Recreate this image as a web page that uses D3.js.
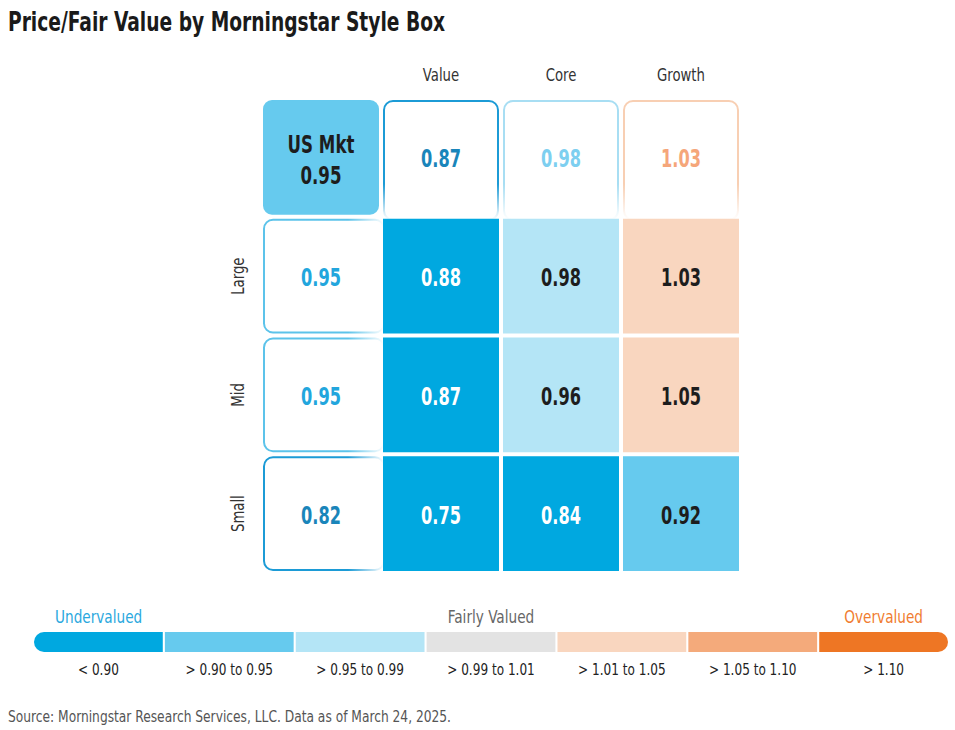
<!DOCTYPE html>
<html lang="en">
<head>
<meta charset="UTF-8" />
<title>Price/Fair Value by Morningstar Style Box</title>
<script src="https://d3js.org/d3.v7.min.js"></script>
<style>
  body { margin: 0; background: #fff; }
  svg text { font-family: "Liberation Sans Narrow", "DejaVu Sans Condensed", "Roboto", sans-serif; }
</style>
</head>
<body>
<svg id="chart" width="955" height="730"></svg>
<script>
  const styles = ["Value", "Core", "Growth"];
  const sizes = ["Large", "Mid", "Small"];
  const usMkt = 0.95;
  const styleTotals = [0.87, 0.98, 1.03];
  const sizeTotals = [0.95, 0.95, 0.82];
  const gridValues = [
    [0.88, 0.98, 1.03],
    [0.87, 0.96, 1.05],
    [0.75, 0.84, 0.92]
  ];
  const thresholds = [0.90, 0.95, 0.99, 1.01, 1.05, 1.10];
  const binLabels = ["< 0.90", "> 0.90 to 0.95", "> 0.95 to 0.99", "> 0.99 to 1.01", "> 1.01 to 1.05", "> 1.05 to 1.10", "> 1.10"];
  const binFills = ["#00a8e0", "#66caee", "#b4e5f6", "#e3e3e3", "#f9d6bf", "#f4aa7b", "#ee7624"];
  const binStrokes = ["#1c9bd6", "#5cc3ea", "#a8def3", "#cccccc", "#f8cfb3", "#f2a273", "#ee7624"];
  const binText = ["#1a85ba", "#22a6dd", "#7dcff0", "#888888", "#f5a67a", "#ef8a4a", "#ee7624"];
  const binInk = ["#ffffff", "#1d1d1d", "#1d1d1d", "#1d1d1d", "#1d1d1d", "#1d1d1d", "#ffffff"];

  const bin = v => d3.bisectLeft(thresholds, v);

  const svg = d3.select("#chart");
  const defs = svg.append("defs");

  // text squeezed sideways to imitate the condensed face
  function label(x, y, str, size, opts = {}) {
    const sx = opts.sx || 0.78;
    const rot = opts.rotate ? ` rotate(${opts.rotate})` : "";
    return svg.append("text")
      .attr("transform", `translate(${x},${y})${rot} scale(${sx},1)`)
      .attr("text-anchor", opts.anchor || "middle")
      .attr("font-size", size)
      .attr("font-weight", opts.bold ? "bold" : "normal")
      .attr("fill", opts.fill || "#222")
      .text(str);
  }

  // title
  svg.append("text").attr("x", 8).attr("y", 31)
    .attr("font-size", 26).attr("font-weight", "bold").attr("fill", "#1a1a1a")
    .attr("textLength", 437).attr("lengthAdjust", "spacingAndGlyphs")
    .text("Price/Fair Value by Morningstar Style Box");

  const x = d3.scaleBand().domain(["total"].concat(styles)).range([263, 739]).paddingInner(1 / 30);
  const y = d3.scaleBand().domain(["total"].concat(sizes)).range([100, 571]).paddingInner(4 / 119);
  const bw = x.bandwidth(), bh = y.bandwidth();

  function fadeGradient(id, color, vertical) {
    const g = defs.append("linearGradient").attr("id", id)
      .attr("x1", 0).attr("y1", 0)
      .attr("x2", vertical ? 0 : 1).attr("y2", vertical ? 1 : 0);
    g.append("stop").attr("offset", 0).attr("stop-color", color).attr("stop-opacity", 1);
    g.append("stop").attr("offset", 0.7).attr("stop-color", color).attr("stop-opacity", 1);
    g.append("stop").attr("offset", 1).attr("stop-color", color).attr("stop-opacity", 0);
  }

  // headers
  styles.forEach(s => label(x(s) + bw / 2, 81, s, 18, { sx: 0.82, fill: "#333" }));
  sizes.forEach(s => label(244, y(s) + bh / 2, s, 18, { sx: 0.82, fill: "#333", rotate: -90 }));

  // US market box
  svg.append("rect").attr("x", x("total")).attr("y", y("total"))
    .attr("width", bw).attr("height", bh).attr("rx", 9)
    .attr("fill", binFills[bin(usMkt)]);
  label(x("total") + bw / 2, y("total") + bh / 2 - 4, "US Mkt", 25, { bold: true, sx: 0.74, fill: "#1d1d1d" });
  label(x("total") + bw / 2, y("total") + bh / 2 + 27, usMkt.toFixed(2), 25, { bold: true, sx: 0.74, fill: "#1d1d1d" });

  // style totals (top row, outline fading downward)
  styles.forEach((s, i) => {
    const v = styleTotals[i], b = bin(v);
    fadeGradient("gs" + i, binStrokes[b], true);
    svg.append("rect").attr("x", x(s) + 1).attr("y", y("total") + 1)
      .attr("width", bw - 2).attr("height", bh + 4).attr("rx", 9)
      .attr("fill", "#fff").attr("stroke", `url(#gs${i})`).attr("stroke-width", 2);
    label(x(s) + bw / 2, y("total") + bh / 2 + 10, v.toFixed(2), 25, { bold: true, sx: 0.72, fill: binText[b] });
  });

  // size totals (left column, outline fading right)
  sizes.forEach((s, i) => {
    const v = sizeTotals[i], b = bin(v);
    fadeGradient("gr" + i, binStrokes[b], false);
    svg.append("rect").attr("x", x("total") + 1).attr("y", y(s) + 1)
      .attr("width", bw + 4).attr("height", bh - 2).attr("rx", 9)
      .attr("fill", "#fff").attr("stroke", `url(#gr${i})`).attr("stroke-width", 2);
    label(x("total") + bw / 2, y(s) + bh / 2 + 10, v.toFixed(2), 25, { bold: true, sx: 0.72, fill: binText[b] });
  });

  // main grid
  sizes.forEach((s, r) => {
    styles.forEach((c, k) => {
      const v = gridValues[r][k], b = bin(v);
      svg.append("rect").attr("x", x(c)).attr("y", y(s))
        .attr("width", bw).attr("height", bh).attr("fill", binFills[b]);
      label(x(c) + bw / 2, y(s) + bh / 2 + 10, v.toFixed(2), 25, { bold: true, sx: 0.72, fill: binInk[b] });
    });
  });

  // legend
  const lx = d3.scaleBand().domain(binLabels).range([34, 948]).paddingInner(0.016);
  const barY = 632, barH = 20;
  defs.append("clipPath").attr("id", "legendClip")
    .append("rect").attr("x", 34).attr("y", barY).attr("width", 914).attr("height", barH).attr("rx", barH / 2);
  svg.append("g").attr("clip-path", "url(#legendClip)")
    .selectAll("rect").data(binLabels).join("rect")
    .attr("x", d => lx(d)).attr("y", barY)
    .attr("width", lx.bandwidth()).attr("height", barH)
    .attr("fill", (d, i) => binFills[i]);
  binLabels.forEach(d => label(lx(d) + lx.bandwidth() / 2, 675, d, 16, { sx: 0.84, fill: "#222" }));

  label(55, 623, "Undervalued", 18.5, { anchor: "start", sx: 0.82, fill: "#2aa8de" });
  label(491, 623, "Fairly Valued", 18.5, { sx: 0.82, fill: "#666" });
  label(923, 623, "Overvalued", 18.5, { anchor: "end", sx: 0.82, fill: "#f07c30" });

  // source
  svg.append("text").attr("x", 8).attr("y", 722).attr("font-size", 15).attr("fill", "#555")
    .attr("textLength", 443).attr("lengthAdjust", "spacingAndGlyphs")
    .text("Source: Morningstar Research Services, LLC. Data as of March 24, 2025.");
</script>
</body>
</html>
